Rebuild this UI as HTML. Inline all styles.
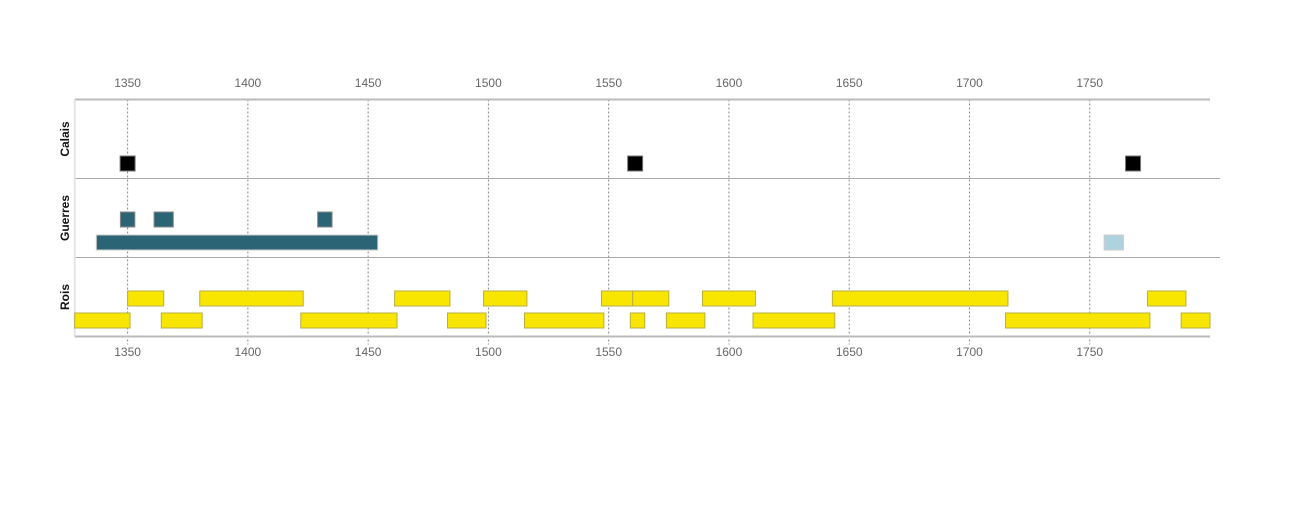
<!DOCTYPE html>
<html><head><meta charset="utf-8"><style>
html,body{margin:0;padding:0;background:#fff;}
svg{display:block;font-family:"Liberation Sans",sans-serif;}
</style></head><body>
<svg id="chart" width="1295" height="527"></svg>
<script>
const tickYears=[1350,1400,1450,1500,1550,1600,1650,1700,1750];
const calaisYears=[1350,1561,1768];
const guerresSmallStart=[1347,1361,1429];
const guerresSmallEnd=[1353,1369,1435];
const guerresLongStart=[1337,1756];
const guerresLongEnd=[1454,1764];
const guerresLongColor=["#2b6474","#aed3de"];
const roisUpperStart=[1350,1380,1461,1498,1547,1560,1589,1643,1774];
const roisUpperEnd=[1365,1423,1484,1516,1560,1575,1611,1716,1790];
const roisLowerStart=[1328,1364,1422,1483,1515,1559,1574,1610,1715,1788];
const roisLowerEnd=[1351,1381,1462,1499,1548,1565,1590,1644,1775,1800];
const rowLabels=["Calais","Guerres","Rois"];

const NS="http://www.w3.org/2000/svg";
const svg=document.getElementById('chart');
const X0=74.7,X1=1210,D0=1328,D1=1800;
function x(y){return X0+(y-D0)*(X1-X0)/(D1-D0);}
function mk(t,a,p){const e=document.createElementNS(NS,t);for(const k in a)e.setAttribute(k,a[k]);(p||svg).appendChild(e);return e;}

const plotTop=99.5,bands=[99.5,178.5,257.5,336.5];
tickYears.forEach(t=>{
  const g=mk('line',{x1:x(t),x2:x(t),y1:plotTop,y2:bands[3]+8,stroke:'#888','stroke-dasharray':'2,2','stroke-width':1});
  
  
  [87,356].forEach((yy,i)=>{
    const tx=mk('text',{x:x(t),y:yy,'text-anchor':'middle','font-size':12,fill:'#666'});
    tx.textContent=t;
    
    
  });
});
let l=mk('line',{x1:X0,x2:X1,y1:bands[0],y2:bands[0],stroke:'#bbb','stroke-width':2});

[1,2].forEach(i=>{const s=mk('line',{x1:X0,x2:1220,y1:bands[i],y2:bands[i],stroke:'#aaa','stroke-width':1});
});
l=mk('line',{x1:X0,x2:X1,y1:bands[3],y2:bands[3],stroke:'#bbb','stroke-width':2});

l=mk('line',{x1:X0,x2:X0,y1:bands[0],y2:bands[3],stroke:'#e4e4e4','stroke-width':2});

rowLabels.forEach((r,i)=>{
  const cy=(bands[i]+bands[i+1])/2;
  const t=mk('text',{x:0,y:0,'text-anchor':'middle','font-size':12,'font-weight':'bold',fill:'#111',transform:`translate(69,${cy}) rotate(-90)`});
  t.textContent=r;
  
  
});
function rect(x1,x2,y,h,fill,stroke,name){
  const r=mk('rect',{x:x1,y:y,width:x2-x1,height:h,fill:fill,stroke:stroke,'stroke-width':1});
  
  
}
calaisYears.forEach(y=>rect(x(y)-7.5,x(y)+7.5,156,15,'#000','#777','calais-event-'+y));
guerresSmallStart.forEach((s,i)=>rect(x(s),x(guerresSmallEnd[i]),212,15,'#2b6474','#888','war-short-'+s));
guerresLongStart.forEach((s,i)=>rect(x(s),x(guerresLongEnd[i]),235,15,guerresLongColor[i],'#ccc','war-long-'+s));
roisUpperStart.forEach((s,i)=>rect(x(s),x(roisUpperEnd[i]),291,15,'#f9e600','#b8ae40','king-reign-'+s));
roisLowerStart.forEach((s,i)=>rect(x(s),x(roisLowerEnd[i]),313,15,'#f9e600','#b8ae40','king-reign-'+s));
</script>
</body></html>
